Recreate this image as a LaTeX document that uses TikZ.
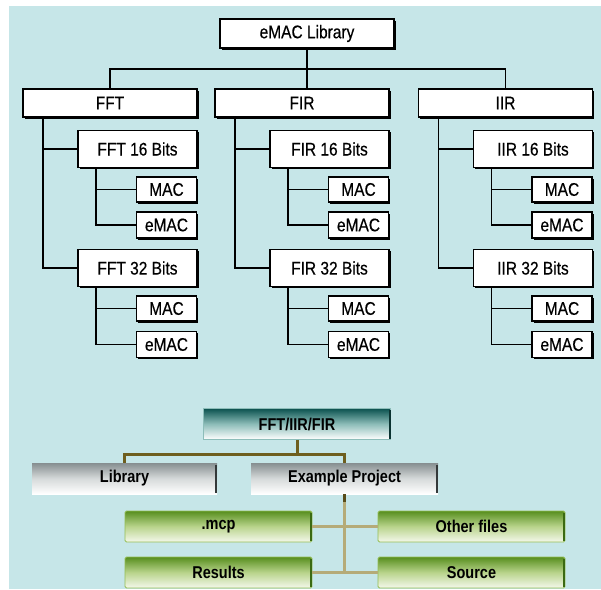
\documentclass[tikz,border=0pt]{standalone}
\usepackage{fontspec}
\usepackage{graphicx}
\setmainfont{Liberation Sans}
\newfontfamily\chartfont{Liberation Sans}[FakeBold=0.45]
\usetikzlibrary{shadows}
\definecolor{bg}{HTML}{C6E6E8}
\definecolor{olive}{HTML}{6E5E1E}
\definecolor{tan}{HTML}{B5AB78}
\definecolor{tealtop}{HTML}{0B524F}
\definecolor{tealmid}{HTML}{8DBDB9}
\definecolor{tealedge}{HTML}{0A3331}
\definecolor{graytop}{HTML}{868E90}
\definecolor{graymid}{HTML}{D6DADA}
\definecolor{grayedge}{HTML}{34393A}
\definecolor{grntop}{HTML}{578E1E}
\definecolor{grnmid}{HTML}{B9D48C}
\definecolor{grnbot}{HTML}{F4F8EC}
\definecolor{grnline}{HTML}{93BC52}
\definecolor{grnedge}{HTML}{3B6A12}
% taller lettering, as in the printed chart
\newcommand\tall[1]{\scalebox{1}[1.18]{#1}}
\tikzset{
  wbox/.style={draw=black, line width=1.6pt, fill=white, inner sep=0pt,
    font=\chartfont\fontsize{15.5}{18}\selectfont,
    drop shadow={shadow xshift=1.6pt, shadow yshift=-1.6pt, fill=black, opacity=1}},
  colbox/.style={wbox, minimum width=174pt, minimum height=28pt},
  bitbox/.style={wbox, minimum width=119pt, minimum height=37pt},
  leafbox/.style={wbox, minimum width=60pt, minimum height=25pt},
  link/.style={draw=black, line width=1.3pt},
  pbox/.style={inner sep=0pt, minimum width=187pt, minimum height=31pt,
    font=\bfseries\fontsize{14.5}{17}\selectfont},
  tealbox/.style={pbox, draw=tealmid, line width=0.6pt, top color=tealtop, bottom color=white, middle color=tealmid},
  graybox/.style={pbox, top color=graytop, bottom color=white, middle color=graymid},
  grnbox/.style={pbox, draw=grnline, line width=0.8pt, rounded corners=1.5pt,
    top color=grntop, bottom color=grnbot, middle color=grnmid},
  oliveline/.style={draw=olive, line width=3pt},
  tanline/.style={draw=tan, line width=3.6pt},
}
\begin{document}
\begin{tikzpicture}[x=1pt, y=-1pt]
\useasboundingbox (0,0) rectangle (601,589);
\fill[white] (0,0) rectangle (601,589);
\fill[bg] (9,6) rectangle (601,589);

% ---- eMAC library tree ----
\node[wbox, minimum width=174pt, minimum height=29pt] (lib) at (307,33.5) {\tall{eMAC Library}};
\coordinate (bus) at (307,69);

\foreach \c/\L/\dx in {fft/FFT/0, fir/FIR/192, iir/IIR/395.5}{
  \node[colbox] (\c) at (110+\dx,103) {\tall{\L}};
  \node[bitbox] (\c16) at (137.5+\dx,149) {\tall{\L{} 16 Bits}};
  \node[bitbox] (\c32) at (137.5+\dx,268) {\tall{\L{} 32 Bits}};
  \node[leafbox] (\c16m) at (166.5+\dx,189.5) {\tall{MAC}};
  \node[leafbox, minimum height=26pt] (\c16e) at (166.5+\dx,225) {\tall{eMAC}};
  \node[leafbox] (\c32m) at (166.5+\dx,308.5) {\tall{MAC}};
  \node[leafbox, minimum height=26pt] (\c32e) at (166.5+\dx,344.5) {\tall{eMAC}};
  \coordinate (\c-t) at (43+\dx,117);
  \coordinate (\c16-t) at (96+\dx,167);
  \coordinate (\c32-t) at (96+\dx,287);
  \draw[link] (\c-t) |- (\c32.west);
  \draw[link] (\c-t |- \c16.west) -- (\c16.west);
  \draw[link] (\c16-t) |- (\c16e.west);
  \draw[link] (\c16-t |- \c16m.west) -- (\c16m.west);
  \draw[link] (\c32-t) |- (\c32e.west);
  \draw[link] (\c32-t |- \c32m.west) -- (\c32m.west);
}
\draw[link] (lib.south) -- (lib.south |- fir.north);
\draw[link] (fft.north) |- (bus) -| (iir.north);

% ---- project folder tree ----
\node[tealbox] (ptop) at (297,424) {\tall{FFT/IIR/FIR}};
\node[graybox, minimum width=185pt] (plib) at (124.5,478.5) {\tall{Library}};
\node[graybox] (pex) at (344.5,478.5) {\tall{Example Project}};
\node[grnbox] (mcp) at (218.5,526.5) {\tall{.mcp}};
\node[grnbox] (oth) at (471.5,526.5) {\tall{Other files}};
\node[grnbox] (res) at (218.5,572.5) {\tall{Results}};
\node[grnbox] (src) at (471.5,572.5) {\tall{Source}};

\foreach \n/\e in {ptop/tealedge, plib/grayedge, pex/grayedge, mcp/grnedge, oth/grnedge, res/grnedge, src/grnedge}{
  \draw[draw=\e, line width=2.2pt] ([xshift=-1.1pt, yshift=-2pt]\n.north east) -- ([xshift=-1.1pt, yshift=1pt]\n.south east);
}

\coordinate (pbus) at (297,454);
\draw[oliveline] (ptop.south) -- (pbus);
\draw[oliveline] (plib.north) |- (pbus) -| (pex.north);
\draw[tanline] (pex.south) -- (pex.south |- res.east);
\draw[tanline] (mcp.east) -- (oth.west);
\draw[tanline] (res.east) -- (src.west);
\draw[draw=olive!80!black, line width=3pt] (pex.south) -- ++(0,8);
\end{tikzpicture}
\end{document}
